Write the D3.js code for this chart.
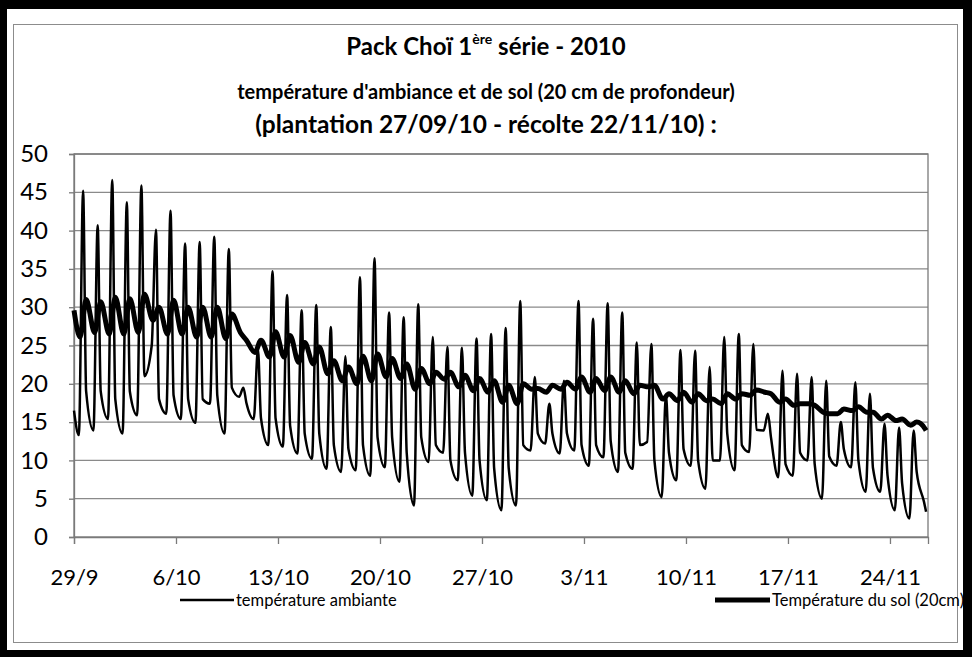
<!DOCTYPE html>
<html><head><meta charset="utf-8">
<script src="https://cdn.jsdelivr.net/npm/d3@7"></script>
<style>body{margin:0;background:#000} svg{display:block}</style>
</head><body><svg id="c" width="972" height="657"></svg>
<script>
// ---- data ----
const startDate = Date.UTC(2010, 8, 29);
const tickLabels = ["29/9","6/10","13/10","20/10","27/10","3/11","10/11","17/11","24/11"];
const yTicks = [0,5,10,15,20,25,30,35,40,45,50];
const seriesNames = ["température ambiante","Température du sol (20cm)"];
// reading hours within each day
const hAmbMin = 8, hAmbMax = 15, hAmbEve = 20, hSoilMin = 10, hSoilMax = 20;
// ambient temperature: morning low, afternoon peak, evening value (one entry per day, 29/9 .. 26/11)
const ambMin = [13.3,13.9,15.4,13.5,15.9,25.0,16.1,15.4,14.9,17.4,13.5,18.3,15.4,12.0,11.8,10.9,10.2,8.9,8.5,8.7,
  8.0,9.1,7.2,4.1,9.8,11.0,7.4,5.4,4.8,3.5,4.1,11.3,12.2,10.9,11.3,9.3,10.4,8.5,8.9,12.4,
  5.2,7.4,9.3,6.3,10.0,8.7,11.1,13.9,7.8,8.0,10.0,5.0,9.3,9.1,5.9,5.9,3.5,2.4,4.6];
const ambMax = [45.2,40.7,46.6,43.7,45.9,40.1,42.6,38.3,38.5,39.2,37.6,19.5,24.5,34.7,31.6,29.6,30.3,27.4,23.6,33.9,
  36.4,29.3,28.7,30.4,26.1,24.8,24.7,25.9,26.5,27.3,30.8,20.9,17.4,20.4,30.8,28.5,30.5,29.3,25.4,25.2,
  18.5,24.4,24.3,22.2,26.1,26.5,25.2,16.1,21.7,21.3,20.9,20.4,15.0,20.2,18.7,14.8,14.3,13.9,null];
const ambEve = [19,19,18,19,21,18,18.5,18,18,18.5,19.5,17.5,15.5,15.5,14.5,13.5,13.5,12,11.5,12,
  13,13,11,13,12,10,11,10,9,9,12,13.5,13.5,13.5,12,12,12.5,11,12,10,
  11,11.5,10,10,13.5,12,14,13,9.5,11,9.5,10.5,11.5,10,9,8,7,8.5,null];
// soil temperature (20 cm): late-morning low, evening high
const soilMin = [26.1,26.7,26.5,26.5,26.7,28.3,26.5,26.5,26.1,26.1,25.9,26.7,24.1,23.5,23.5,22.8,22.6,21.3,20.4,20.0,
  20.4,20.9,20.7,19.3,20.0,20.6,19.6,19.1,18.9,17.6,17.4,19.3,18.9,19.3,19.3,18.9,19.1,18.9,18.7,19.6,
  18.0,17.8,17.6,17.8,17.4,18.0,18.5,18.9,17.6,17.2,17.4,16.3,16.1,16.5,16.3,15.4,15.2,14.6,14.1];
const soilMax = [31.0,30.7,31.3,31.1,31.7,30.0,30.9,30.0,30.0,30.0,29.1,25.7,25.7,26.8,26.3,25.4,24.8,23.0,22.2,23.6,
  23.9,23.3,22.6,22.0,21.5,21.5,21.1,20.7,20.4,19.8,20.0,19.4,19.8,20.2,20.9,20.7,20.9,20.4,19.8,19.8,
  18.7,18.9,18.7,18.0,18.7,18.7,19.2,18.7,18.0,17.4,17.2,16.1,16.7,17.0,16.3,15.9,15.4,15.0,null];
const firstReading = {hour: 0, amb: 16.5, soil: 29.6};
const lastReading = {day: 58, hour: 11.5, amb: 3.3, soil: 13.9};
const axisEndDays = 58.61;

// ---- build series ----
const H = 3600e3;
function pt(day, hour, v){ return {t: new Date(startDate + (day*24 + hour)*H), v}; }
const amb = [pt(0, firstReading.hour, firstReading.amb)];
const soil = [pt(0, firstReading.hour, firstReading.soil)];
ambMin.forEach((v,d)=>{
  amb.push(pt(d,hAmbMin,v));
  if (ambMax[d]!=null) amb.push(pt(d,hAmbMax,ambMax[d]));
  if (ambEve[d]!=null) amb.push(pt(d,hAmbEve,ambEve[d]));
});
soilMin.forEach((v,d)=>{
  soil.push(pt(d,hSoilMin,v));
  if (soilMax[d]!=null) soil.push(pt(d,hSoilMax,soilMax[d]));
});
amb.push(pt(lastReading.day,lastReading.hour,lastReading.amb));
soil.push(pt(lastReading.day,lastReading.hour,lastReading.soil));

// ---- drawing ----
const svg = d3.select("#c");
const W = 972, Hh = 657;
svg.append("rect").attr("width",W).attr("height",Hh).attr("fill","#000");
svg.append("rect").attr("x",7).attr("y",9).attr("width",956).attr("height",641).attr("fill","#fff");
svg.append("rect").attr("x",13.5).attr("y",24.5).attr("width",944).attr("height",618)
  .attr("fill","none").attr("stroke","#8c8c8c").attr("stroke-width",1);

const L = 74, R = 928, T = 154, B = 537;
const x = d3.scaleUtc().domain([new Date(startDate), new Date(startDate + axisEndDays*24*H)]).range([L,R]);
const y = d3.scaleLinear().domain([0,50]).range([B,T]);
const font = "Lato, 'Open Sans', sans-serif";

// gridlines
svg.append("g").selectAll("line").data(yTicks.filter(v=>v>0)).join("line")
  .attr("x1",L).attr("x2",R).attr("y1",d=>y(d)).attr("y2",d=>y(d))
  .attr("stroke","#8a8a8a").attr("stroke-width",1.3);
// plot border
svg.append("rect").attr("x",L).attr("y",T).attr("width",R-L).attr("height",B-T)
  .attr("fill","none").attr("stroke","#7a7a7a").attr("stroke-width",1.3);

// y axis
const yAxis = svg.append("g").attr("transform",`translate(${L},0)`)
  .call(d3.axisLeft(y).tickValues(yTicks).tickSize(5).tickPadding(26).tickFormat(d3.format("d")));
yAxis.select(".domain").attr("stroke","#7a7a7a").attr("stroke-width",1.3);
yAxis.selectAll(".tick line").attr("stroke","#7a7a7a").attr("stroke-width",1.3);
yAxis.selectAll("text").attr("font-family",font).attr("font-size",24).attr("fill","#000")
  .attr("text-anchor","end").attr("x",-26);

// x axis
const tickDates = tickLabels.map((s,i)=>new Date(startDate + i*7*24*H));
const xAxis = svg.append("g").attr("transform",`translate(0,${B})`)
  .call(d3.axisBottom(x).tickValues(tickDates).tickSize(7).tickPadding(25).tickFormat((d,i)=>tickLabels[i]));
xAxis.select(".domain").attr("stroke","#7a7a7a").attr("stroke-width",1.3);
xAxis.selectAll(".tick line").attr("stroke","#7a7a7a").attr("stroke-width",1.3);
xAxis.selectAll("text").attr("font-family",font).attr("font-size",22).attr("fill","#000");

// lines
const line = d3.line().x(d=>x(d.t)).y(d=>y(d.v)).curve(d3.curveMonotoneX);
svg.append("path").datum(soil).attr("d",line).attr("fill","none")
  .attr("stroke","#000").attr("stroke-width",5).attr("stroke-linejoin","round");
svg.append("path").datum(amb).attr("d",line).attr("fill","none")
  .attr("stroke","#000").attr("stroke-width",2.5).attr("stroke-linejoin","round");

// titles
const t1 = svg.append("text").attr("x",486).attr("y",55).attr("text-anchor","middle")
  .attr("font-family",font).attr("font-weight","bold").attr("font-size",24);
t1.append("tspan").text("Pack  Choï 1");
t1.append("tspan").attr("font-size",14).attr("dy",-11).text("ère");
t1.append("tspan").attr("dy",11).text(" série - 2010");
svg.append("text").attr("x",486).attr("y",99).attr("text-anchor","middle")
  .attr("font-family",font).attr("font-weight","bold").attr("font-size",20)
  .text("température d'ambiance et de sol (20 cm de profondeur)");
svg.append("text").attr("x",486).attr("y",133).attr("text-anchor","middle")
  .attr("font-family",font).attr("font-weight","bold").attr("font-size",24.5)
  .text("(plantation 27/09/10 - récolte 22/11/10) :");

// legend
const leg = [{x1:180,x2:234,w:2.5,name:seriesNames[0]},{x1:715,x2:770,w:5,name:seriesNames[1]}];
const lg = svg.append("g");
leg.forEach(l=>{
  lg.append("line").attr("x1",l.x1).attr("x2",l.x2).attr("y1",600).attr("y2",600)
    .attr("stroke","#000").attr("stroke-width",l.w);
  lg.append("text").attr("x",l.x2+2).attr("y",606).attr("font-family",font).attr("font-size",16.5)
    .text(l.name);
});
// right black frame overlays legend text overflow
svg.append("rect").attr("x",963).attr("y",0).attr("width",9).attr("height",Hh).attr("fill","#000");
</script></body></html>
